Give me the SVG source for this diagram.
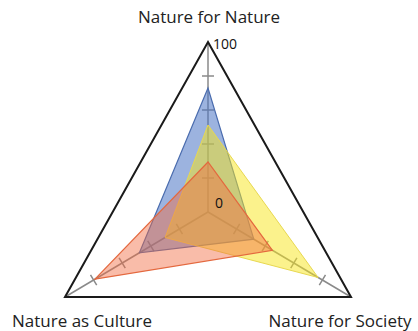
<svg xmlns="http://www.w3.org/2000/svg" width="418" height="331" viewBox="0 0 418 331">
<style>
.lbl{font-family:"Open Sans","Liberation Sans",sans-serif;font-size:17px;fill:#222;text-anchor:middle}
.sm{font-family:"Open Sans","Liberation Sans",sans-serif;font-size:14px;fill:#111}
.axis{stroke:#8a8a8a;stroke-width:1.5;fill:none}
.frame{stroke:#1a1a1a;stroke-width:2;fill:none;stroke-linejoin:miter}
.blue{fill:#4A74C4;fill-opacity:0.55;stroke:#4A6CAE;stroke-width:1.2}
.yellow{fill:#F7E51A;fill-opacity:0.5;stroke:#E8D850;stroke-width:1}
.red{fill:#F26A40;fill-opacity:0.45;stroke:#E4683E;stroke-width:1.2}
</style>
<rect width="418" height="331" fill="#fff"/>
<g id="connectors">
<path class="axis" d="M208,212 L208,42 M208,212 L65,297 M208,212 L351,297"/>
<path class="axis" d="M202,178 H214 M202,144 H214 M202,110 H214 M202,76 H214
M176.3,223.8 L182.5,234.2 M147.7,240.8 L153.9,251.2 M119.1,257.8 L125.3,268.2 M90.5,274.8 L96.7,285.2
M239.7,223.8 L233.5,234.2 M268.3,240.8 L262.1,251.2 M296.9,257.8 L290.7,268.2 M325.5,274.8 L319.3,285.2"/>
</g>
<g id="series-blue"><polygon class="blue" points="208,88 139.4,252.8 253.8,239.2"/></g>
<g id="series-yellow"><polygon class="yellow" points="208,125 165.1,237.5 318.1,277.5"/></g>
<g id="series-red"><polygon class="red" points="208,162 95,279.2 272.4,250.3"/></g>
<g id="frame"><polygon class="frame" points="208,42 351,297 65,297"/></g>
<g id="node-top"><text class="lbl" x="209" y="23">Nature for Nature</text></g>
<g id="node-left"><text class="lbl" x="82" y="327">Nature as Culture</text></g>
<g id="node-right"><text class="lbl" x="340" y="327">Nature for Society</text></g>
<g id="scale"><text class="sm" x="213" y="49">100</text><text class="sm" x="215" y="208">0</text></g>
</svg>
